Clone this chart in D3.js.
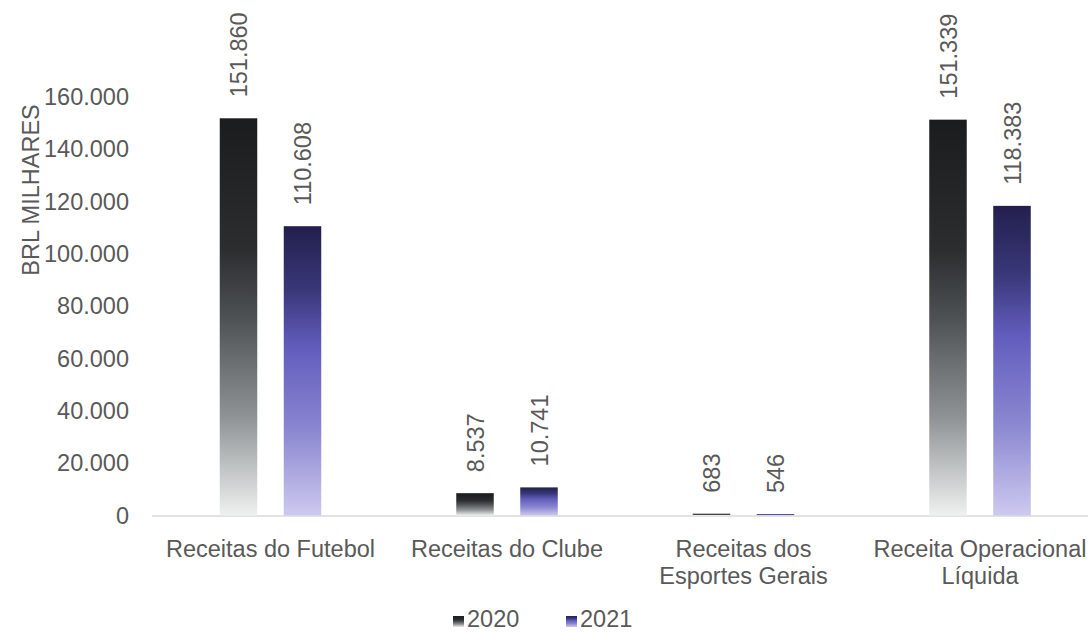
<!DOCTYPE html>
<html>
<head>
<meta charset="utf-8">
<script src="https://cdn.jsdelivr.net/npm/d3@7"></script>
<style>
  html, body { margin: 0; padding: 0; background: #ffffff; }
  svg { display: block; font-family: "Liberation Sans", Arial, sans-serif; }
</style>
</head>
<body>
<svg id="chart" width="1088" height="632"></svg>
<script>
const categories = [["Receitas do Futebol"], ["Receitas do Clube"], ["Receitas dos", "Esportes Gerais"], ["Receita Operacional", "Líquida"]];
const series = ["2020", "2021"];
const values2020 = [151860, 8537, 683, 151339];
const values2021 = [110608, 10741, 546, 118383];
const tickValues = [0, 20000, 40000, 60000, 80000, 100000, 120000, 140000, 160000];
const tickLabels = ["0", "20.000", "40.000", "60.000", "80.000", "100.000", "120.000", "140.000", "160.000"];
const yTitle = "BRL MILHARES";

const svg = d3.select("#chart");
const textColor = "#595959";
const fontSize = 23.5;

// gradients
const defs = svg.append("defs");
const grads = [
  { id: "g2020", stops: [[0, "#1b1c1e"], [0.33, "#2c2d2f"], [0.5, "#4d5154"], [0.75, "#8e9294"], [1, "#eff1f0"]] },
  { id: "g2021", stops: [[0, "#221f4e"], [0.22, "#3a3779"], [0.42, "#625dbd"], [0.7, "#8a86d0"], [1, "#cdc9ef"]] }
];
grads.forEach(g => {
  const lg = defs.append("linearGradient").attr("id", g.id).attr("x1", 0).attr("y1", 0).attr("x2", 0).attr("y2", 1);
  g.stops.forEach(s => lg.append("stop").attr("offset", s[0]).attr("stop-color", s[1]));
});

const x = d3.scaleBand().domain(d3.range(categories.length)).range([152.25, 1098.25]).paddingInner(0).paddingOuter(0);
const y = d3.scaleLinear().domain([0, 160000]).range([515.5, 97]);

// y axis labels
const yAxis = d3.axisLeft(y).tickValues(tickValues).tickSize(0).tickPadding(0)
  .tickFormat((d, i) => tickLabels[i]);
const yg = svg.append("g").attr("transform", "translate(129,0)").call(yAxis);
yg.select(".domain").remove();
yg.selectAll("text").attr("fill", textColor).style("font-size", fontSize + "px")
  .style("font-family", '"Liberation Sans", Arial, sans-serif');

// baseline
svg.append("line").attr("x1", 152).attr("x2", 1088).attr("y1", y(0) + 0.5).attr("y2", y(0) + 0.5)
  .attr("stroke", "#d9d9d9").attr("stroke-width", 1.5);

// bars
const barW = 37.5, offset = 32;
const data = [];
categories.forEach((c, i) => {
  data.push({ i, s: 0, v: values2020[i] });
  data.push({ i, s: 1, v: values2021[i] });
});
const cx = d => x(d.i) + x.bandwidth() / 2 + (d.s === 0 ? -offset : offset);

svg.append("g").selectAll("rect").data(data).join("rect")
  .attr("x", d => cx(d) - barW / 2)
  .attr("width", barW)
  .attr("y", d => y(d.v))
  .attr("height", d => y(0) - y(d.v))
  .attr("fill", d => d.s === 0 ? "url(#g2020)" : "url(#g2021)");

// data labels
const fmt = v => d3.format(",")(v).replace(/,/g, ".");
svg.append("g").selectAll("text").data(data).join("text")
  .attr("transform", d => `translate(${cx(d) + 8.5},${y(d.v) - 21}) rotate(-90)`)
  .attr("text-anchor", "start")
  .attr("fill", textColor)
  .style("font-size", fontSize + "px")
  .text(d => fmt(d.v));

// category labels
const cg = svg.append("g");
categories.forEach((lines, i) => {
  const t = cg.append("text").attr("text-anchor", "middle").attr("fill", textColor).style("font-size", fontSize + "px");
  lines.forEach((l, j) => {
    t.append("tspan").attr("x", x(i) + x.bandwidth() / 2).attr("y", 557 + j * 27).text(l);
  });
});

// y title
svg.append("text").attr("transform", "translate(39,190) rotate(-90)")
  .attr("text-anchor", "middle").attr("fill", textColor).style("font-size", fontSize + "px").text(yTitle);

// legend
const legend = svg.append("g");
const legItems = [{ s: "2020", x: 453, g: "url(#g2020)" }, { s: "2021", x: 566, g: "url(#g2021)" }];
legItems.forEach(it => {
  legend.append("rect").attr("x", it.x).attr("y", 616).attr("width", 11).attr("height", 11).attr("fill", it.g);
  legend.append("text").attr("x", it.x + 14).attr("y", 627).attr("fill", textColor).style("font-size", fontSize + "px").text(it.s);
});
</script>
</body>
</html>
